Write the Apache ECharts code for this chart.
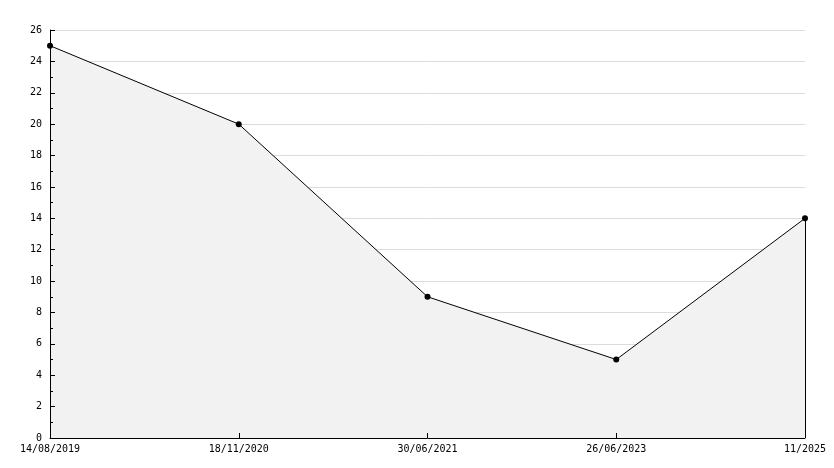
<!DOCTYPE html>
<html>
<head>
<meta charset="utf-8">
<script src="https://cdn.jsdelivr.net/npm/echarts@6/dist/echarts.min.js"></script>
<style>html,body{margin:0;padding:0;background:#fff;}#c{width:834px;height:468px;}</style>
</head>
<body>
<div id="c"></div>
<script>
const categories = ['14/08/2019', '18/11/2020', '30/06/2021', '26/06/2023', '11/2025'];
const values = [25, 20, 9, 5, 14];
const yMin = 0, yMax = 26, yStep = 2;

const font = 'DejaVu Sans Mono';
const chart = echarts.init(document.getElementById('c'), null, {renderer: 'canvas'});
const lastCat = categories[categories.length - 1];
const lastVal = values[values.length - 1];
chart.setOption({
  animation: false,
  backgroundColor: '#fff',
  grid: {left: 50, right: 29, top: 30, bottom: 30, containLabel: false},
  xAxis: {
    type: 'category',
    zlevel: 2,
    data: categories,
    boundaryGap: false,
    axisLine: {lineStyle: {color: '#000', width: 1}},
    axisTick: {inside: true, length: 5, lineStyle: {color: '#000'}, alignWithLabel: true},
    axisLabel: {color: '#000', fontFamily: font, fontSize: 10, margin: 6, interval: 0},
    splitLine: {show: false}
  },
  yAxis: [{
    type: 'value',
    zlevel: 0,
    position: 'left',
    min: yMin, max: yMax, interval: yStep,
    axisLine: {show: false},
    axisTick: {show: false},
    axisLabel: {show: false},
    splitLine: {show: true, lineStyle: {color: '#dcdcdc', width: 1}}
  }, {
    type: 'value',
    zlevel: 2,
    position: 'left',
    offset: 0,
    min: yMin, max: yMax, interval: yStep,
    axisLine: {show: true, lineStyle: {color: '#000', width: 1}},
    axisTick: {show: true, inside: true, length: 5, lineStyle: {color: '#000'}},
    minorTick: {show: true, splitNumber: 2, length: 3, lineStyle: {color: '#000'}},
    axisLabel: {color: '#000', fontFamily: font, fontSize: 10, margin: 8},
    splitLine: {show: false}
  }],
  series: [{
    type: 'line',
    yAxisIndex: 0,
    zlevel: 1,
    data: values,
    symbol: 'circle',
    symbolSize: 6,
    itemStyle: {color: '#000'},
    lineStyle: {color: '#000', width: 1},
    areaStyle: {color: '#f2f2f2', opacity: 1},
    markLine: {
      silent: true,
      symbol: 'none',
      label: {show: false},
      lineStyle: {color: '#000', width: 1, type: 'solid'},
      data: [[{coord: [lastCat, yMin]}, {coord: [lastCat, lastVal]}]]
    }
  }]
});
</script>
</body>
</html>
